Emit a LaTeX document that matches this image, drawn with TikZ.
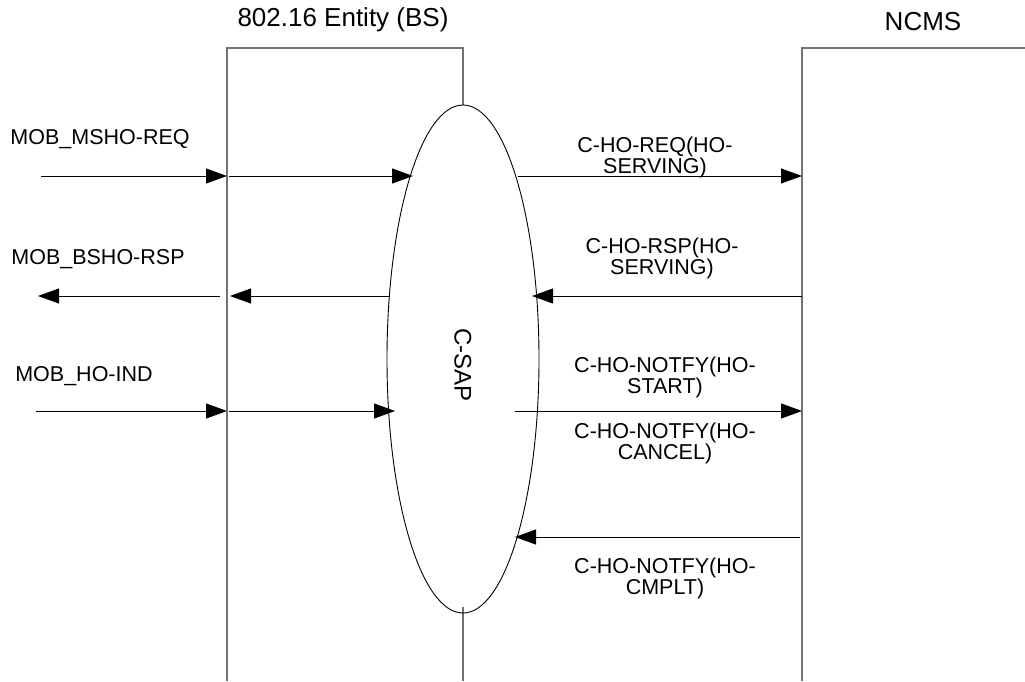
\documentclass[tikz,border=0pt]{standalone}
\usepackage{fontspec}
\setmainfont{Liberation Sans}
\usetikzlibrary{arrows.meta}
\begin{document}
\begin{tikzpicture}[x=1pt,y=-1pt,
  lifeline/.style={draw=black!55,line width=1.6pt},
  msg/.style={draw=black,line width=0.9pt,-{Triangle[length=21pt,width=15pt]}},
  lbl/.style={font=\fontsize{21.5}{21}\selectfont,align=center,inner sep=0pt},
  title/.style={font=\fontsize{26}{26}\selectfont,inner sep=0pt}]
\useasboundingbox (0,0) rectangle (1025,681);
% boxes
\draw[lifeline] (227,681) -- (227,48) -- (463,48) -- (463,105);
\draw[lifeline] (463,607) -- (463,681);
\draw[lifeline] (802,681) -- (802,48) -- (1025,48);
\node[title] (bs) at (343,20) {802.16 Entity (BS)};
\node[title] (ncms) at (923,22) {NCMS};
% C-SAP ellipse
\draw[line width=0.9pt] (463,359) ellipse [x radius=76, y radius=254];
\node[lbl,font=\fontsize{24}{24}\selectfont,rotate=-90] (csap) at (463,365) {C-SAP};
% coordinates
\coordinate (a1) at (41,176);  \coordinate (b1) at (227,176); \coordinate (b1r) at (229,176);
\coordinate (e1l) at (413,176); \coordinate (e1r) at (518,176); \coordinate (n1) at (802,176);
\coordinate (a2) at (38,296); \coordinate (b2l) at (220,296); \coordinate (b2r) at (230,296);
\coordinate (e2l) at (390,296); \coordinate (e2r) at (532,296); \coordinate (n2) at (802,296);
\coordinate (a3) at (36,411); \coordinate (b3) at (227,411); \coordinate (b3r) at (229,411);
\coordinate (e3l) at (395,411); \coordinate (e3r) at (515,411); \coordinate (n3) at (802,411);
\coordinate (e4r) at (515,537); \coordinate (n4) at (800,537);
% messages
\draw[msg] (a1) -- (b1);
\draw[msg] (b1r) -- (e1l);
\draw[msg] (e1r) -- (n1);
\draw[msg] (b2l) -- (a2);
\draw[msg] (e2l) -- (b2r);
\draw[msg] (n2) -- (e2r);
\draw[msg] (a3) -- (b3);
\draw[msg] (b3r) -- (e3l);
\draw[msg] (e3r) -- (n3);
\draw[msg] (n4) -- (e4r);
% labels
\node[lbl] (l1) at (100,139) {MOB\_MSHO-REQ};
\node[lbl] (l2) at (98,259) {MOB\_BSHO-RSP};
\node[lbl] (l3) at (84,376) {MOB\_HO-IND};
\node[lbl] (r1) at (655,157) {C-HO-REQ(HO-\\SERVING)};
\node[lbl] (r2) at (662,258) {C-HO-RSP(HO-\\SERVING)};
\node[lbl] (r3) at (665,377) {C-HO-NOTFY(HO-\\START)};
\node[lbl] (r4) at (665,443) {C-HO-NOTFY(HO-\\CANCEL)};
\node[lbl] (r5) at (665,578) {C-HO-NOTFY(HO-\\CMPLT)};
\end{tikzpicture}
\end{document}
